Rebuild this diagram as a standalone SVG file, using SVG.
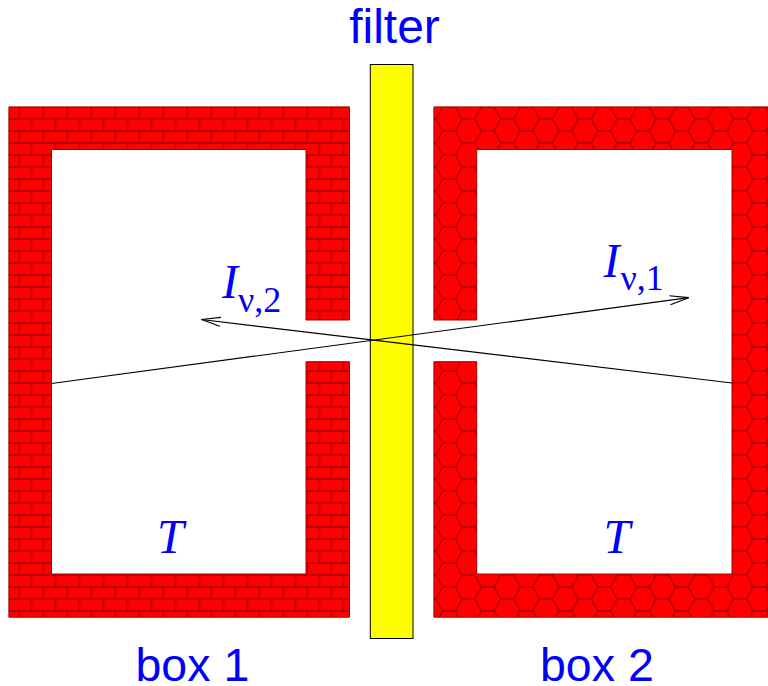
<svg xmlns="http://www.w3.org/2000/svg" width="768" height="686" viewBox="0 0 768 686">
<style>
.l{font-family:"Liberation Sans",Arial,sans-serif;font-size:46.5px;fill:#0000ff}
.f{font-size:48px}
.s{font-family:"Liberation Serif","Times New Roman",serif;fill:#0000ff}
.i{font-size:48px;font-style:italic}
.b{font-size:36px}
.w{stroke:#a80000;stroke-width:1}
.c{fill:none;stroke:#000;stroke-width:1.2}
</style>
<defs>
<pattern id="brick" patternUnits="userSpaceOnUse" x="19.4" y="107" width="24" height="24">
<rect width="24" height="24" fill="#ff0000"/>
<path d="M0 0H24M0 12H24M0 24H24M0 0V12M24 0V12M12 12V24" fill="none" stroke="#a80000" stroke-width="1.3"/>
</pattern>
<pattern id="hex" patternUnits="userSpaceOnUse" x="449" y="119" width="38.8" height="24">
<rect width="38.8" height="24" fill="#ff0000"/>
<path d="M0 12H6.45L12.9 0H25.9L32.35 12H38.8M6.45 12L12.9 24H25.9L32.35 12" fill="none" stroke="#a80000" stroke-width="1.3"/>
</pattern>
<marker id="open" markerUnits="userSpaceOnUse" markerWidth="24" markerHeight="16" refX="22" refY="8" orient="auto">
<path d="M3 3.5L22 8L3 12.5" fill="none" stroke="#000" stroke-width="1.2"/>
</marker>
</defs>
<rect width="768" height="686" fill="#fff"/>
<g id="box1">
<path class="w" fill="url(#brick)" fill-rule="evenodd" d="M8.9 106.9H349.5V320H306V149.5H51.5V574H306V361.7H349.5V617.2H8.9Z"/>
<text class="l" x="135.5" y="681">box 1</text>
<text class="s i" x="157" y="552.7">T</text>
</g>
<g id="box2">
<path class="w" fill="url(#hex)" fill-rule="evenodd" d="M433.9 106.9H768V617.2H433.9V361.7H476.7V574H732V149.5H476.7V320H433.9Z"/>
<text class="l" x="540" y="681">box 2</text>
<text class="s i" x="603.5" y="552.7">T</text>
</g>
<g id="filter">
<rect x="370.3" y="64.5" width="42.7" height="574" fill="#ffff00" stroke="#000" stroke-width="1"/>
<text class="l f" x="394.5" y="43" text-anchor="middle">filter</text>
</g>
<g id="connectors">
<line class="c" x1="51.5" y1="383.5" x2="688.7" y2="297.7" marker-end="url(#open)"/>
<line class="c" x1="732" y1="383" x2="201.5" y2="319.5" marker-end="url(#open)"/>
</g>
<g id="label-i2"><text class="s i" x="222" y="297.7">I</text><text class="s b" x="238" y="311.7">ν,2</text></g>
<g id="label-i1"><text class="s i" x="603.5" y="276.7">I</text><text class="s b" x="620.5" y="290">ν,1</text></g>
</svg>
